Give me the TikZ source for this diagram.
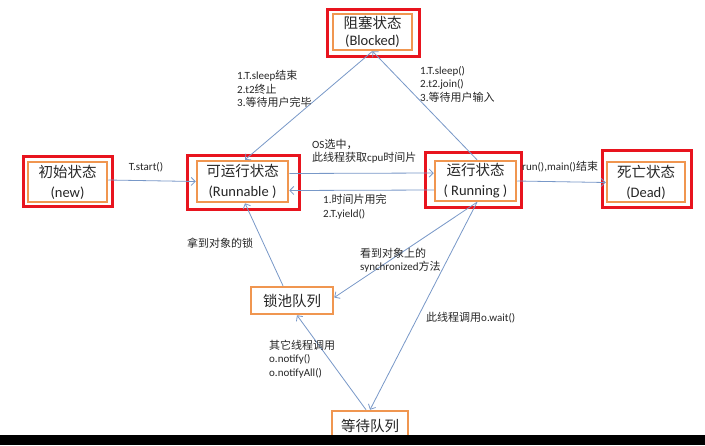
\documentclass[tikz,border=0pt]{standalone}
\usepackage{fontspec}
\setmainfont{Carlito}
\newfontfamily\zh{Noto Sans CJK SC}
\usetikzlibrary{arrows.meta}
\definecolor{boxorange}{RGB}{240,150,80}
\definecolor{boxred}{RGB}{232,20,30}
\definecolor{linkblue}{RGB}{120,152,200}
\definecolor{ink}{RGB}{38,38,38}
\begin{document}
\begin{tikzpicture}[x=1pt,y=-1pt,
  obox/.style={draw=boxorange, line width=2.5pt, fill=white, inner sep=0pt, align=center, text=ink, font=\fontsize{14.5}{20}\selectfont},
  rbox/.style={draw=boxred, line width=3pt, inner sep=0pt},
  link/.style={draw=linkblue, line width=0.8pt, -{Straight Barb[length=4pt,width=8pt]}},
  lbl/.style={inner sep=0pt, align=left, text=ink, font=\fontsize{11}{13.5}\selectfont, anchor=west}]
\useasboundingbox (0,0) rectangle (705,445);
\fill[white] (0,0) rectangle (705,445);

% red frames
\node[rbox, minimum width=89pt, minimum height=50pt] (newframe) at (67.5,181) {};
\node[rbox, minimum width=112pt, minimum height=54pt] (runnableframe) at (243,182) {};
\node[rbox, minimum width=96pt, minimum height=55pt] (runningframe) at (473,179.5) {};
\node[rbox, minimum width=89pt, minimum height=57pt] (deadframe) at (646.5,178.5) {};
\node[rbox, minimum width=92pt, minimum height=47pt] (blockedframe) at (373,32.5) {};

% orange state boxes
\node[obox, minimum width=79pt, minimum height=40pt] (new) at (67.5,182) {{\zh 初始状态}\\(new)};
\node[obox, minimum width=91pt, minimum height=41pt] (runnable) at (242.5,181.5) {{\zh 可运行状态}\\(Runnable )};
\node[obox, minimum width=81pt, minimum height=40pt] (running) at (475.5,181) {{\zh 运行状态}\\( Running )};
\node[obox, minimum width=78pt, minimum height=40pt] (dead) at (646,182) {{\zh 死亡状态}\\(Dead)};
\node[obox, minimum width=79pt, minimum height=36pt, font=\fontsize{14.5}{17.5}\selectfont] (blocked) at (372.5,32) {{\zh 阻塞状态}\\(Blocked)};
\node[obox, minimum width=82pt, minimum height=27pt] (lockpool) at (292,300.5) {\zh 锁池队列};
\node[obox, minimum width=76pt, minimum height=30pt, text depth=0pt] (waiting) at (370,426) {\raisebox{1.5pt}{\zh 等待队列}};

% connectors
\draw[link] ([yshift=2pt]new.east) -- (runnable.west);
\draw[link] ([yshift=8pt]runnable.east) -- ([yshift=8pt]running.west);
\draw[link] ([yshift=-9pt]running.west) -- ([yshift=-9pt]runnable.east);
\draw[link] (running.east) -- ([yshift=-0.5pt]dead.west);
\draw[link] ([xshift=1.5pt]running.north) -- (blocked.south);
\draw[link] (blocked.south) -- ([xshift=2.5pt]runnable.north);
\draw[link] ([xshift=-9pt]lockpool.north) -- ([xshift=2.5pt]runnable.south);
\draw[link] ([xshift=1.5pt]running.south) -- ([yshift=3pt]lockpool.east);
\draw[link] ([xshift=1.5pt]running.south) -- (waiting.north);
\draw[link] ([xshift=-4pt]waiting.north) -- ([xshift=5pt]lockpool.south);

% labels
\node[lbl, anchor=center] (lstart) at (146,167) {T.start()};
\node[lbl] (los) at (312,151.5) {OS{\zh 选中，}\\{\zh 此线程获取}cpu{\zh 时间片}};
\node[lbl] (lslice) at (323,206.5) {1.{\zh 时间片用完}\\2.T.yield()};
\node[lbl] (lend) at (522,167) {run(),main(){\zh 结束}};
\node[lbl] (lsleepend) at (237,89) {1.T.sleep{\zh 结束}\\2.t2{\zh 终止}\\3.{\zh 等待用户完毕}};
\node[lbl] (lsleep) at (420,84) {1.T.sleep()\\2.t2.join()\\3.{\zh 等待用户输入}};
\node[lbl] (llock) at (187,243) {\zh 拿到对象的锁};
\node[lbl] (lsync) at (360,260) {{\zh 看到对象上的}\\synchronized{\zh 方法}};
\node[lbl] (lwait) at (426,318) {{\zh 此线程调用}o.wait()};
\node[lbl] (lnotify) at (269,359) {{\zh 其它线程调用}\\o.notify()\\o.notifyAll()};

% bottom black band
\fill[black] (0,435) rectangle (705,445);
\end{tikzpicture}
\end{document}
